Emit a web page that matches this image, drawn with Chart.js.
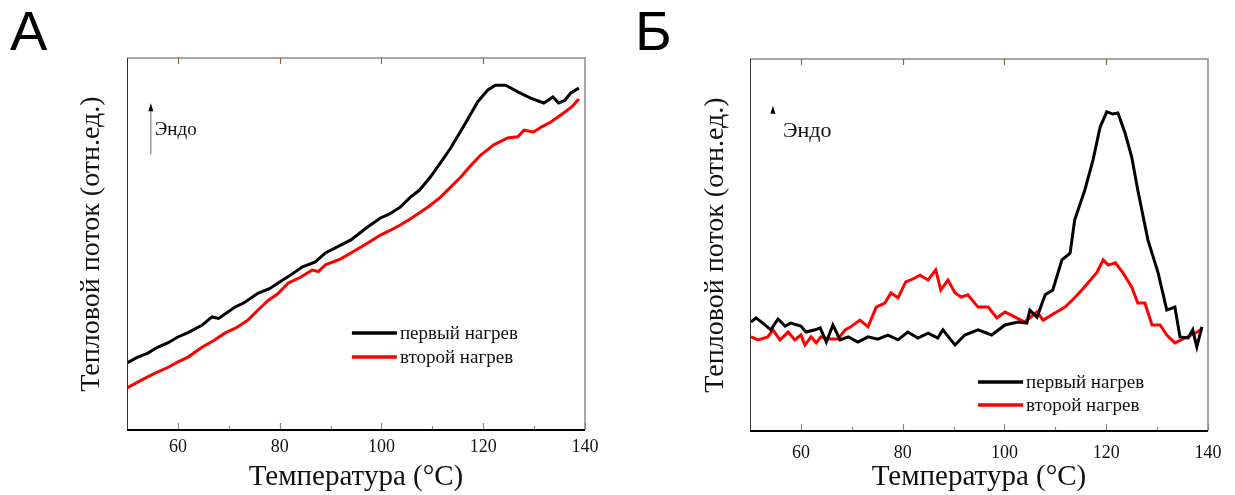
<!DOCTYPE html>
<html>
<head>
<meta charset="utf-8">
<script src="https://cdn.jsdelivr.net/npm/chart.js@4.4.1/dist/chart.umd.min.js"></script>
<style>
    body { margin: 0; background: #fff; width: 1235px; height: 495px; overflow: hidden; position: relative; }
    canvas { position: absolute; top: 0; }
</style>
</head>
<body>
<canvas id="chartA" width="615" height="495" style="left:0"></canvas>
<canvas id="chartB" width="620" height="495" style="left:615px"></canvas>
<script>
// Panel A - first heating
const tempA1 = [50, 52, 54, 56.1, 58, 60, 62, 64.8, 66.7, 68, 71.3, 73, 75.8, 78, 80, 82, 84.4, 87, 89, 92, 94, 97, 99.8, 101.5, 103.7, 105.7, 107.5, 109.6, 111.6, 113.6, 116.1, 118.9, 120.9, 122.4, 124.4, 126.8, 129.3, 131.9, 133.7, 134.8, 136, 137.2, 138.8];
const heatA1 = [18.0, 19.5, 20.6, 22.3, 23.4, 25.0, 26.2, 28.2, 30.4, 30.0, 33.1, 34.2, 36.8, 38.0, 39.8, 41.5, 43.8, 45.2, 47.6, 49.7, 51.1, 54.3, 57.0, 58.0, 59.9, 62.6, 64.5, 68.0, 71.8, 75.8, 81.5, 88.2, 91.4, 92.7, 92.7, 90.9, 89.2, 87.9, 89.5, 87.9, 88.6, 90.6, 91.9];
// Panel A - second heating
const tempA2 = [50, 52, 55.5, 58, 60, 62, 64.8, 67, 69.3, 71.5, 73.8, 76, 77.8, 79.5, 81.7, 84, 86.4, 87.6, 89, 92, 94, 97, 99.8, 101.5, 103.7, 105.5, 107.7, 109.5, 111.6, 113.6, 115.6, 117.5, 119.5, 121, 122, 124.8, 126.8, 128, 129.9, 131.5, 133.3, 135.8, 137.5, 138.8];
const heatA2 = [11.3, 12.8, 15.3, 16.8, 18.3, 19.6, 22.3, 24.0, 26.1, 27.5, 29.6, 32.6, 34.9, 36.5, 39.5, 41.0, 43.0, 42.6, 44.4, 46.0, 47.6, 50.0, 52.4, 53.5, 55.1, 56.6, 58.6, 60.3, 62.6, 65.3, 68.0, 71.0, 73.9, 75.5, 76.6, 78.5, 78.8, 80.6, 80.1, 81.5, 82.8, 85.2, 87.0, 89.0];

// Panel B - first heating
const tempB1 = [50.2, 51.2, 52.5, 54.1, 55.5, 56.9, 58, 60, 61, 62.8, 63.8, 65, 66.3, 67.7, 69.3, 71.2, 73.2, 75.1, 77.1, 79.1, 81, 83, 85, 86.9, 87.9, 90.3, 92.2, 94.8, 97.5, 100.1, 102.7, 104.4, 105, 106.4, 108, 109.5, 111.3, 112.9, 113.8, 115.8, 117.4, 118.8, 120.1, 121.3, 122.3, 123.7, 125, 126.2, 128.2, 130.2, 131.9, 133.5, 134.5, 136.1, 137, 137.8, 138.8];
const heatB1 = [29.3, 30.4, 29.0, 27.2, 30.1, 28.2, 29.0, 28.2, 26.6, 27.2, 27.7, 23.9, 28.5, 24.5, 25.3, 23.9, 25.3, 24.7, 25.8, 24.5, 26.6, 25.0, 26.3, 25.0, 27.2, 23.1, 25.8, 27.2, 25.8, 28.5, 29.3, 29.0, 32.5, 30.6, 36.6, 37.9, 46.0, 47.8, 56.7, 64.8, 72.8, 81.7, 85.8, 85.2, 85.5, 80.1, 73.7, 64.8, 51.3, 42.5, 32.5, 33.3, 25.3, 25.0, 27.2, 22.6, 28.0];
// Panel B - second heating
const tempB2 = [50.2, 51.6, 53.5, 54.5, 55.9, 57.5, 58.8, 60, 60.8, 62, 63, 63.9, 65.7, 67.3, 68.7, 69.8, 71.6, 73.2, 74.8, 76.5, 77.7, 79.1, 80.6, 81.6, 83.4, 85, 86.5, 87.5, 88.9, 90.3, 91.5, 92.8, 94.8, 96.8, 98.5, 100.1, 102.1, 104, 106.4, 107.6, 109.9, 111.9, 113.8, 115.2, 116.4, 118.2, 119.4, 120.4, 121.8, 123.3, 125, 126.2, 127.6, 129, 130.6, 131.9, 133.5, 135.5, 137.5, 138.8];
const heatB2 = [25.3, 24.5, 25.3, 27.2, 24.5, 26.6, 24.5, 25.8, 23.1, 25.3, 23.7, 25.3, 24.7, 24.7, 27.2, 28.0, 29.8, 28.0, 33.3, 34.4, 37.1, 35.8, 40.1, 40.6, 41.9, 40.6, 43.3, 37.9, 40.6, 37.1, 36.0, 36.6, 33.3, 33.3, 30.4, 32.0, 30.6, 29.3, 32.0, 29.8, 31.7, 33.3, 35.8, 37.9, 39.8, 42.7, 46.0, 44.6, 45.2, 42.5, 38.7, 34.4, 34.4, 28.5, 28.5, 25.8, 23.7, 25.0, 26.3, 27.4];

const seriesLabels = ['первый нагрев', 'второй нагрев'];
const seriesColors = ['#000000', '#ff0000'];
const xTicks = [60, 80, 100, 120, 140];
const xMinorTicks = [70, 90, 110, 130];
const xTitle = 'Температура (°C)';
const yTitle = 'Тепловой поток (отн.ед.)';
const endoLabel = 'Эндо';

const SERIF = '"Liberation Serif", "Times New Roman", serif';

function toPoints(xs, ys) {
    return xs.map((t, i) => ({ x: t, y: ys[i] }));
}

// frame, inward ticks, legend, Endo arrow and panel letter
const decorPlugin = {
    id: 'decor',
    afterDraw(chart, args, o) {
        const { ctx, chartArea: a, scales: { x } } = chart;
        ctx.save();

        ctx.strokeStyle = '#8a8a8a';
        ctx.lineWidth = 1.5;
        ctx.beginPath();
        ctx.moveTo(a.left, a.top);
        ctx.lineTo(a.right, a.top);
        ctx.lineTo(a.right, a.bottom);
        ctx.stroke();

        ctx.strokeStyle = '#333';
        ctx.lineWidth = 1;
        ctx.beginPath();
        ctx.moveTo(a.left + 0.5, a.top);
        ctx.lineTo(a.left + 0.5, a.bottom);
        ctx.stroke();

        ctx.strokeStyle = '#000';
        ctx.lineWidth = 2;
        ctx.beginPath();
        ctx.moveTo(a.left, a.bottom);
        ctx.lineTo(a.right, a.bottom);
        ctx.stroke();

        ctx.strokeStyle = '#888';
        ctx.lineWidth = 1.2;
        xTicks.concat(xMinorTicks).forEach(v => {
            const px = Math.round(x.getPixelForValue(v)) + 0.5;
            const len = xTicks.includes(v) ? 6 : 3;
            ctx.beginPath();
            ctx.moveTo(px, a.bottom - 1);
            ctx.lineTo(px, a.bottom - 1 - len);
            ctx.stroke();
        });
        ctx.strokeStyle = '#8b6a3a';
        xTicks.slice(0, 4).forEach(v => {
            const px = Math.round(x.getPixelForValue(v)) + 0.5;
            ctx.beginPath();
            ctx.moveTo(px, a.top);
            ctx.lineTo(px, a.top + 6);
            ctx.stroke();
        });

        // legend
        const lx = a.left + o.legendX * a.width;
        let ly = a.top + o.legendY * a.height;
        ctx.font = o.legendFont + 'px ' + SERIF;
        ctx.textBaseline = 'middle';
        ctx.textAlign = 'left';
        chart.data.datasets.forEach(ds => {
            ctx.strokeStyle = ds.borderColor;
            ctx.lineWidth = 3.5;
            ctx.beginPath();
            ctx.moveTo(lx, ly);
            ctx.lineTo(lx + 45, ly);
            ctx.stroke();
            ctx.fillStyle = '#111';
            ctx.fillText(ds.label, lx + 48, ly + 1);
            ly += o.legendGap;
        });

        // Endo arrow
        const ax = a.left + o.endoX * a.width;
        const ay = a.top + o.endoY * a.height;
        if (o.endoLen > 0) {
            ctx.strokeStyle = '#999';
            ctx.lineWidth = 1.5;
            ctx.beginPath();
            ctx.moveTo(ax, ay + 4);
            ctx.lineTo(ax, ay + o.endoLen);
            ctx.stroke();
        }
        ctx.fillStyle = '#000';
        ctx.beginPath();
        ctx.moveTo(ax, ay - 3);
        ctx.lineTo(ax - 2.5, ay + 5);
        ctx.lineTo(ax + 2.5, ay + 5);
        ctx.closePath();
        ctx.fill();
        ctx.font = o.endoFont + 'px ' + SERIF;
        ctx.fillStyle = '#111';
        ctx.fillText(endoLabel, ax + o.endoTextDx, ay + o.endoTextDy);

        // panel letter
        ctx.font = '56px "Liberation Sans", Arial, sans-serif';
        ctx.textBaseline = 'alphabetic';
        ctx.fillStyle = '#000';
        ctx.fillText(o.letter, o.letterX, 50);

        ctx.restore();
    }
};

function makeChart(id, t1, h1, t2, h2, lay, decor) {
    const ctx = document.getElementById(id).getContext('2d');
    return new Chart(ctx, {
        type: 'line',
        data: {
            datasets: [
                { label: seriesLabels[0], data: toPoints(t1, h1), borderColor: seriesColors[0], borderWidth: 3, pointRadius: 0, tension: 0 },
                { label: seriesLabels[1], data: toPoints(t2, h2), borderColor: seriesColors[1], borderWidth: 3, pointRadius: 0, tension: 0 }
            ]
        },
        options: {
            responsive: false,
            animation: false,
            layout: { padding: { left: lay.left, right: lay.right, top: lay.top, bottom: 0 } },
            plugins: { legend: { display: false }, tooltip: { enabled: false }, decor: decor },
            scales: {
                x: {
                    type: 'linear',
                    min: 50,
                    max: 140,
                    afterBuildTicks: s => { s.ticks = xTicks.map(v => ({ value: v })); },
                    afterFit: s => { s.height = lay.xHeight; },
                    grid: { display: false, drawTicks: false },
                    border: { display: false },
                    ticks: { color: '#111', padding: lay.tickPad, font: { family: SERIF, size: 18, lineHeight: 1.2 } },
                    title: { display: true, text: xTitle, color: '#111', padding: { top: 0, bottom: 0 }, font: { family: SERIF, size: 29, lineHeight: 1.2 } }
                },
                y: {
                    min: 0,
                    max: 100,
                    afterFit: s => { s.width = lay.yWidth; },
                    grid: { display: false },
                    border: { display: false },
                    ticks: { display: false },
                    title: { display: true, text: yTitle, color: '#111', padding: { top: 0, bottom: 0 }, font: { family: SERIF, size: 28, lineHeight: 1.2 } }
                }
            }
        },
        plugins: [decorPlugin]
    });
}

makeChart('chartA', tempA1, heatA1, tempA2, heatA2,
    { left: 75, right: 30, top: 58, xHeight: 65, yWidth: 52, tickPad: 6 },
    { letter: 'А', letterX: 10, legendX: 0.491, legendY: 0.739, legendGap: 24, legendFont: 19,
      endoX: 0.052, endoY: 0.13, endoLen: 48, endoFont: 19, endoTextDx: 4, endoTextDy: 24 });

makeChart('chartB', tempB1, heatB1, tempB2, heatB2,
    { left: 84, right: 27, top: 59, xHeight: 64, yWidth: 51, tickPad: 11 },
    { letter: 'Б', letterX: 20, legendX: 0.498, legendY: 0.868, legendGap: 23, legendFont: 19,
      endoX: 0.05, endoY: 0.134, endoLen: 0, endoFont: 22, endoTextDx: 10, endoTextDy: 22 });
</script>
</body>
</html>
